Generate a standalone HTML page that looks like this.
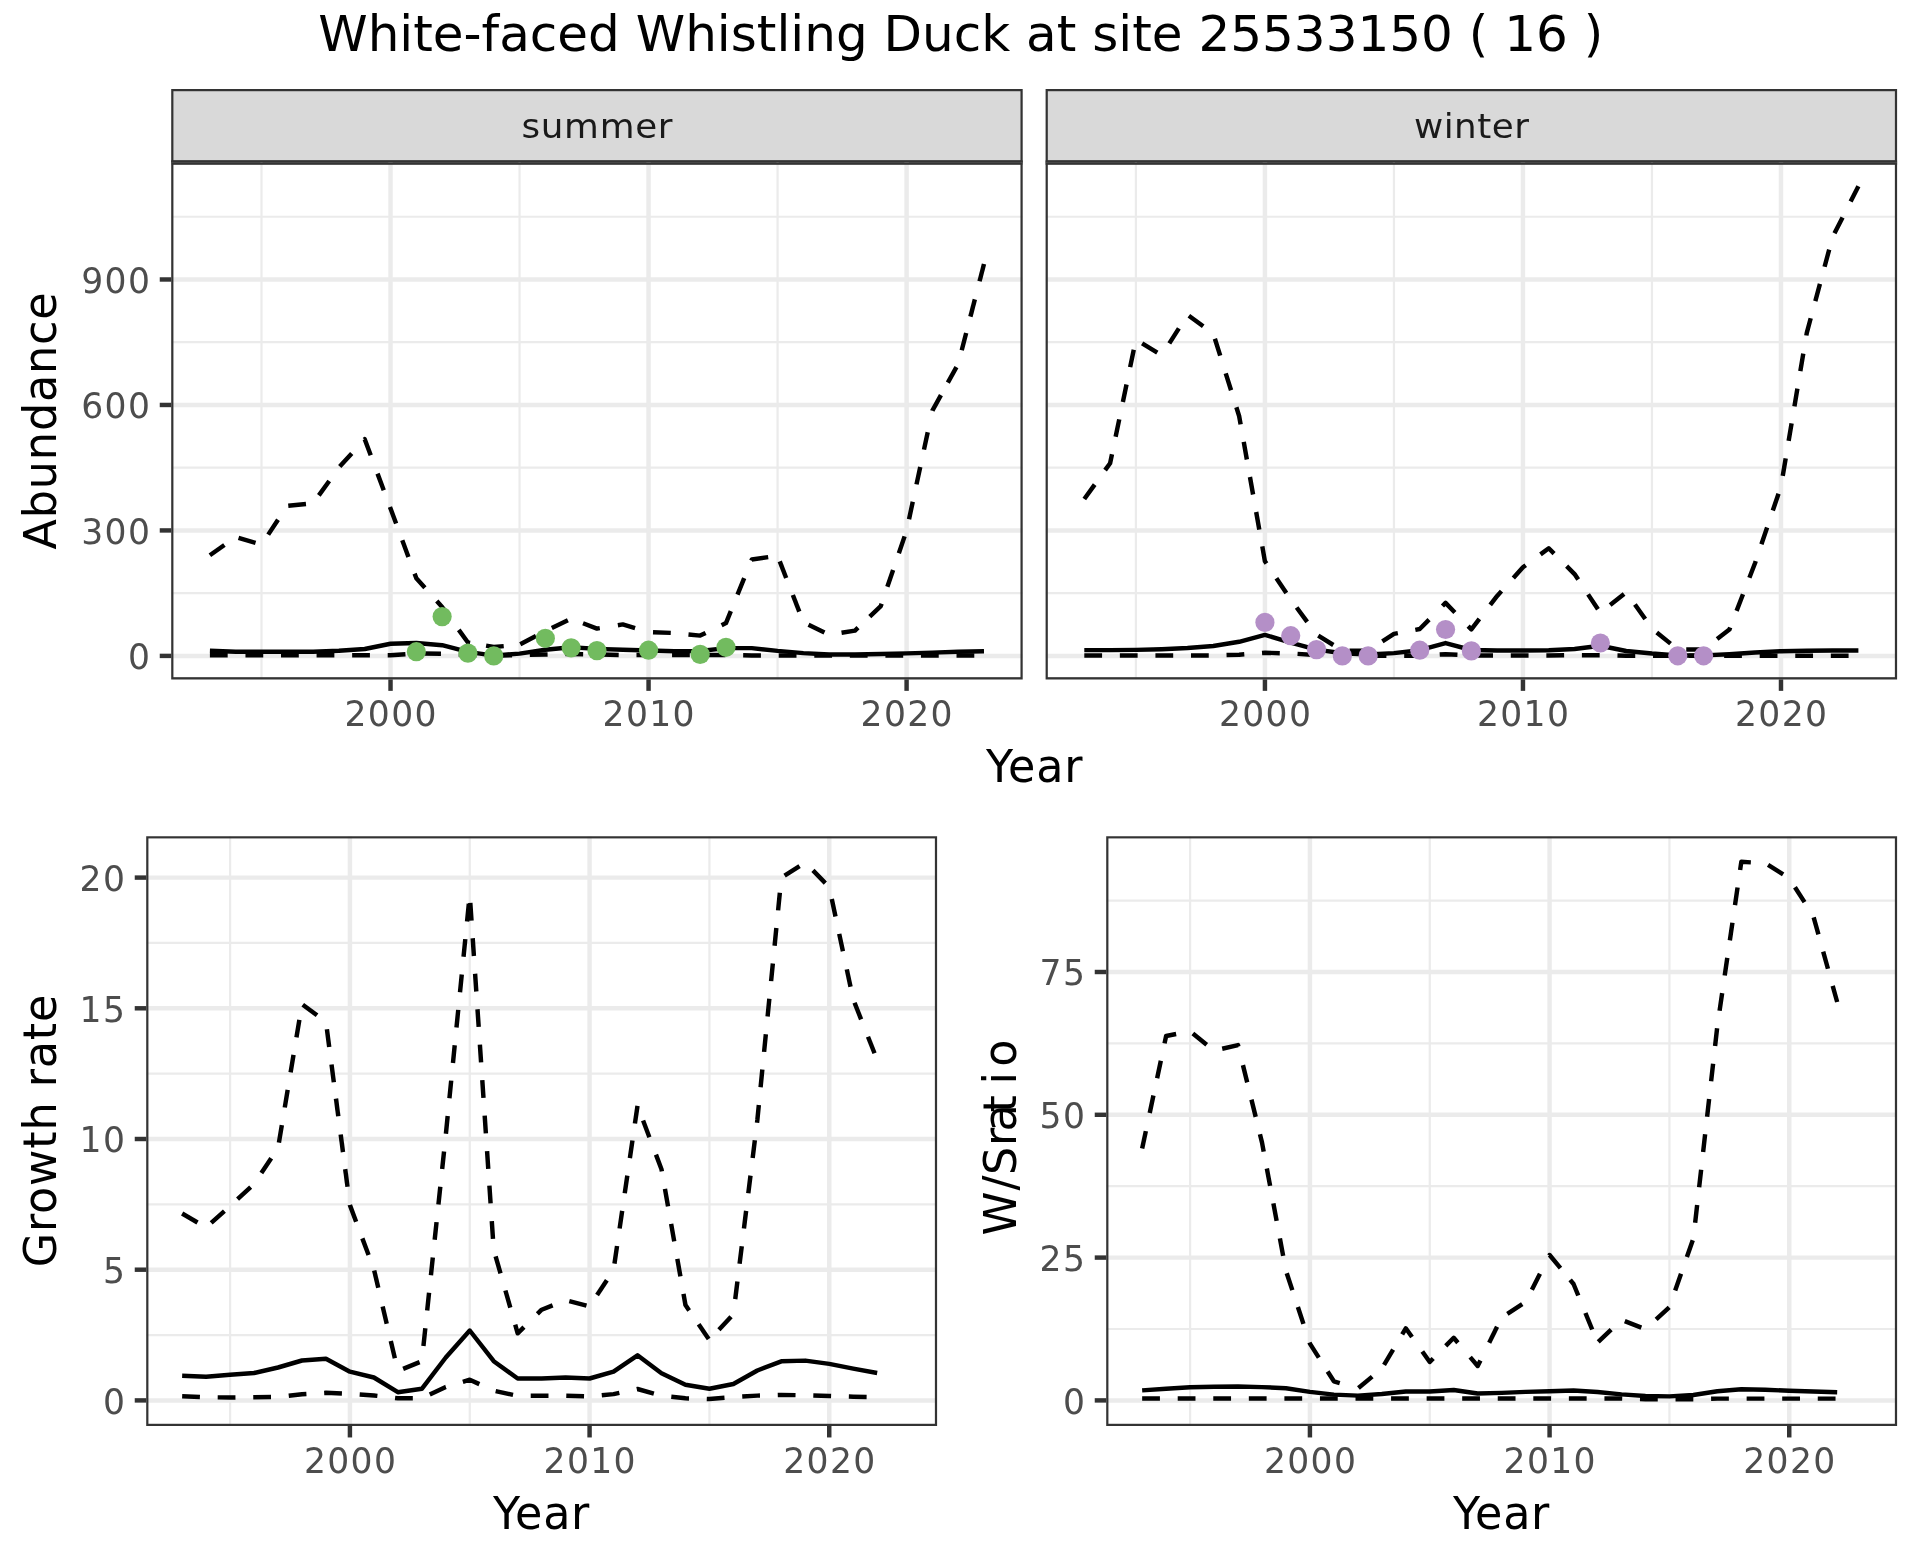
<!DOCTYPE html>
<html><head><meta charset="utf-8"><title>White-faced Whistling Duck at site 25533150</title>
<style>html,body{margin:0;padding:0;background:#fff;}svg{display:block;will-change:transform;}</style>
</head><body>
<svg xmlns="http://www.w3.org/2000/svg" width="1920" height="1560" viewBox="0 0 1920 1560">
<rect x="0" y="0" width="1920" height="1560" fill="#FFFFFF"/>
<defs>
<clipPath id="c_summer"><rect x="171.2" y="162.6" width="851.5" height="516.8"/></clipPath>
<clipPath id="c_winter"><rect x="1045.6" y="162.6" width="851.5" height="516.8"/></clipPath>
<clipPath id="c_growth"><rect x="146.2" y="836.2" width="790.9" height="589.8"/></clipPath>
<clipPath id="c_ratio"><rect x="1106.2" y="836.2" width="790.9" height="589.8"/></clipPath>
</defs>
<style>.ax{font-family:'DejaVu Sans', 'Liberation Sans', sans-serif;font-size:36.67px;fill:#4D4D4D}.ti{font-family:'DejaVu Sans', 'Liberation Sans', sans-serif;font-size:45.83px;fill:#000}.st{font-family:'DejaVu Sans', 'Liberation Sans', sans-serif;font-size:36.67px;fill:#1A1A1A}</style>
<text x="960.7" y="51" text-anchor="middle" style="font-family:'DejaVu Sans', 'Liberation Sans', sans-serif;font-size:50px;fill:#000">White-faced Whistling Duck at site 25533150 ( 16 )</text>
<rect x="172.31" y="90.11" width="849.28" height="71.38" fill="#D9D9D9" stroke="#333333" stroke-width="2.22"/>
<rect x="171.2" y="160.38" width="851.5" height="4.45" fill="#333333"/>
<text x="521.5 540.65 564.04 599.74 635.28 657.75" y="138.7" class="st" style="font-size:35.753px" transform="translate(0 128.8) scale(1 0.9538) translate(0 -128.7)">summer</text>
<rect x="1046.71" y="90.11" width="849.28" height="71.38" fill="#D9D9D9" stroke="#333333" stroke-width="2.22"/>
<rect x="1045.6" y="160.38" width="851.5" height="4.45" fill="#333333"/>
<text x="1414.02 1443.74 1454.09 1477.22 1491.69 1514.15" y="138.7" class="st" style="font-size:35.753px" transform="translate(0 128.8) scale(1 0.9538) translate(0 -128.7)">winter</text>
<g clip-path="url(#c_summer)">
<rect x="171.2" y="162.6" width="851.5" height="516.8" fill="#FFFFFF"/>
<line x1="171.2" y1="593.16" x2="1022.7" y2="593.16" stroke="#EBEBEB" stroke-width="2.22"/>
<line x1="171.2" y1="467.69" x2="1022.7" y2="467.69" stroke="#EBEBEB" stroke-width="2.22"/>
<line x1="171.2" y1="342.22" x2="1022.7" y2="342.22" stroke="#EBEBEB" stroke-width="2.22"/>
<line x1="171.2" y1="216.75" x2="1022.7" y2="216.75" stroke="#EBEBEB" stroke-width="2.22"/>
<line x1="261.51" y1="162.6" x2="261.51" y2="679.4" stroke="#EBEBEB" stroke-width="2.22"/>
<line x1="519.54" y1="162.6" x2="519.54" y2="679.4" stroke="#EBEBEB" stroke-width="2.22"/>
<line x1="777.57" y1="162.6" x2="777.57" y2="679.4" stroke="#EBEBEB" stroke-width="2.22"/>
<line x1="171.2" y1="655.9" x2="1022.7" y2="655.9" stroke="#EBEBEB" stroke-width="4.45"/>
<line x1="171.2" y1="530.43" x2="1022.7" y2="530.43" stroke="#EBEBEB" stroke-width="4.45"/>
<line x1="171.2" y1="404.96" x2="1022.7" y2="404.96" stroke="#EBEBEB" stroke-width="4.45"/>
<line x1="171.2" y1="279.48" x2="1022.7" y2="279.48" stroke="#EBEBEB" stroke-width="4.45"/>
<line x1="390.53" y1="162.6" x2="390.53" y2="679.4" stroke="#EBEBEB" stroke-width="4.45"/>
<line x1="648.56" y1="162.6" x2="648.56" y2="679.4" stroke="#EBEBEB" stroke-width="4.45"/>
<line x1="906.59" y1="162.6" x2="906.59" y2="679.4" stroke="#EBEBEB" stroke-width="4.45"/>
<path d="M209.9 655.3 L235.71 655.3 L261.51 655.3 L287.31 655.3 L313.12 655.3 L338.92 655.3 L364.72 655.3 L390.53 655.3 L416.33 653.5 L442.13 653.7 L467.93 655 L493.74 655.8 L519.54 655 L545.34 654.5 L571.15 654 L596.95 654.5 L622.75 655 L648.56 655 L674.36 655 L700.16 655 L725.97 655 L751.77 655.5 L777.57 655.5 L803.37 655.5 L829.18 655.5 L854.98 655.5 L880.78 655.5 L906.59 655.5 L932.39 655.5 L958.19 655.5 L984 655.5" fill="none" stroke="#000000" stroke-width="4.45" stroke-linejoin="round" stroke-linecap="butt" stroke-dasharray="17.78 17.78"/>
<path d="M209.9 650.8 L235.71 651.7 L261.51 651.7 L287.31 651.7 L313.12 651.7 L338.92 650.8 L364.72 649 L390.53 643.8 L416.33 643 L442.13 645.2 L467.93 651.9 L493.74 655.6 L519.54 653.6 L545.34 649.7 L571.15 647.3 L596.95 648.9 L622.75 649.7 L648.56 650.5 L674.36 651.3 L700.16 651 L725.97 648.1 L751.77 648.1 L777.57 650.9 L803.37 653.1 L829.18 654.5 L854.98 654.5 L880.78 654 L906.59 653.4 L932.39 652.6 L958.19 651.7 L984 651.2" fill="none" stroke="#000000" stroke-width="4.45" stroke-linejoin="round" stroke-linecap="butt"/>
<path d="M209.9 555.3 L230.86 540.44" fill="none" stroke="#000000" stroke-width="4.45" stroke-linejoin="round" stroke-linecap="butt" stroke-dasharray="17.78 17.78" stroke-dashoffset="0"/>
<path d="M230.86 540.44 L235.71 537 L261.51 544.7 L263.28 542.04" fill="none" stroke="#000000" stroke-width="4.45" stroke-linejoin="round" stroke-linecap="butt" stroke-dasharray="17.78 17.78" stroke-dashoffset="26.67"/>
<path d="M263.28 542.04 L287.31 505.8 L313.12 503.3 L313.64 502.58" fill="none" stroke="#000000" stroke-width="4.45" stroke-linejoin="round" stroke-linecap="butt" stroke-dasharray="17.78 17.78" stroke-dashoffset="26.67"/>
<path d="M313.64 502.58 L338.92 467.5 L358.35 446.19" fill="none" stroke="#000000" stroke-width="4.45" stroke-linejoin="round" stroke-linecap="butt" stroke-dasharray="17.78 17.78" stroke-dashoffset="26.67"/>
<path d="M358.35 446.19 L364.72 439.2 L374.43 465.27" fill="none" stroke="#000000" stroke-width="4.45" stroke-linejoin="round" stroke-linecap="butt" stroke-dasharray="17.78 17.78" stroke-dashoffset="26.67"/>
<path d="M374.43 465.27 L390.53 508.5 L416.33 578.3 L442.13 607 L453.54 622.69" fill="none" stroke="#000000" stroke-width="4.45" stroke-linejoin="round" stroke-linecap="butt" stroke-dasharray="17.78 17.78" stroke-dashoffset="26.67"/>
<path d="M453.54 622.69 L467.93 642.5 L477.33 644.14" fill="none" stroke="#000000" stroke-width="4.45" stroke-linejoin="round" stroke-linecap="butt" stroke-dasharray="17.78 17.78" stroke-dashoffset="26.67"/>
<path d="M477.33 644.14 L493.74 647 L511.5 645.42" fill="none" stroke="#000000" stroke-width="4.45" stroke-linejoin="round" stroke-linecap="butt" stroke-dasharray="17.78 17.78" stroke-dashoffset="26.67"/>
<path d="M511.5 645.42 L519.54 644.7 L545.34 631 L571.15 618.75 L574.72 620.11" fill="none" stroke="#000000" stroke-width="4.45" stroke-linejoin="round" stroke-linecap="butt" stroke-dasharray="17.78 17.78" stroke-dashoffset="26.67"/>
<path d="M574.72 620.11 L596.95 628.6 L609.11 626.62" fill="none" stroke="#000000" stroke-width="4.45" stroke-linejoin="round" stroke-linecap="butt" stroke-dasharray="17.78 17.78" stroke-dashoffset="26.67"/>
<path d="M609.11 626.62 L622.75 624.4 L644.3 630.75" fill="none" stroke="#000000" stroke-width="4.45" stroke-linejoin="round" stroke-linecap="butt" stroke-dasharray="17.78 17.78" stroke-dashoffset="26.67"/>
<path d="M644.3 630.75 L648.56 632 L674.36 633 L700.16 635.6 L725.97 623.1 L747.98 568.83" fill="none" stroke="#000000" stroke-width="4.45" stroke-linejoin="round" stroke-linecap="butt" stroke-dasharray="17.78 17.78" stroke-dashoffset="26.67"/>
<path d="M747.98 568.83 L751.77 559.5 L774.72 556.21" fill="none" stroke="#000000" stroke-width="4.45" stroke-linejoin="round" stroke-linecap="butt" stroke-dasharray="17.78 17.78" stroke-dashoffset="26.67"/>
<path d="M774.72 556.21 L777.57 555.8 L789.62 586.76" fill="none" stroke="#000000" stroke-width="4.45" stroke-linejoin="round" stroke-linecap="butt" stroke-dasharray="17.78 17.78" stroke-dashoffset="26.67"/>
<path d="M789.62 586.76 L802.23 619.16" fill="none" stroke="#000000" stroke-width="4.45" stroke-linejoin="round" stroke-linecap="butt" stroke-dasharray="17.78 17.78" stroke-dashoffset="26.67"/>
<path d="M802.23 619.16 L803.37 622.1 L829.18 634.8 L854.98 630.6 L863.31 622.69" fill="none" stroke="#000000" stroke-width="4.45" stroke-linejoin="round" stroke-linecap="butt" stroke-dasharray="17.78 17.78" stroke-dashoffset="26.67"/>
<path d="M863.31 622.69 L880.78 606.1 L906.59 530.5 L930.49 419.41" fill="none" stroke="#000000" stroke-width="4.45" stroke-linejoin="round" stroke-linecap="butt" stroke-dasharray="17.78 17.78" stroke-dashoffset="26.67"/>
<path d="M930.49 419.41 L932.39 410.6 L943.53 390.48" fill="none" stroke="#000000" stroke-width="4.45" stroke-linejoin="round" stroke-linecap="butt" stroke-dasharray="17.78 17.78" stroke-dashoffset="26.67"/>
<path d="M943.53 390.48 L958.19 364 L968.2 325.23" fill="none" stroke="#000000" stroke-width="4.45" stroke-linejoin="round" stroke-linecap="butt" stroke-dasharray="17.78 17.78" stroke-dashoffset="26.67"/>
<path d="M968.2 325.23 L977.33 289.83" fill="none" stroke="#000000" stroke-width="4.45" stroke-linejoin="round" stroke-linecap="butt" stroke-dasharray="17.78 17.78" stroke-dashoffset="26.67"/>
<path d="M977.33 289.83 L984 264" fill="none" stroke="#000000" stroke-width="4.45" stroke-linejoin="round" stroke-linecap="butt" stroke-dasharray="17.78 17.78" stroke-dashoffset="26.67"/>
<circle cx="416.33" cy="651.7" r="9.6" fill="#72BB5F"/>
<circle cx="442.13" cy="616.6" r="9.6" fill="#72BB5F"/>
<circle cx="467.93" cy="653.1" r="9.6" fill="#72BB5F"/>
<circle cx="493.74" cy="655.9" r="9.6" fill="#72BB5F"/>
<circle cx="545.34" cy="638.3" r="9.6" fill="#72BB5F"/>
<circle cx="571.15" cy="647.8" r="9.6" fill="#72BB5F"/>
<circle cx="596.95" cy="650.6" r="9.6" fill="#72BB5F"/>
<circle cx="648.56" cy="650.2" r="9.6" fill="#72BB5F"/>
<circle cx="700.16" cy="654.4" r="9.6" fill="#72BB5F"/>
<circle cx="725.97" cy="647.3" r="9.6" fill="#72BB5F"/>
<rect x="171.2" y="162.6" width="851.5" height="516.8" fill="none" stroke="#333333" stroke-width="4.45"/>
</g>
<g clip-path="url(#c_winter)">
<rect x="1045.6" y="162.6" width="851.5" height="516.8" fill="#FFFFFF"/>
<line x1="1045.6" y1="593.16" x2="1897.1" y2="593.16" stroke="#EBEBEB" stroke-width="2.22"/>
<line x1="1045.6" y1="467.69" x2="1897.1" y2="467.69" stroke="#EBEBEB" stroke-width="2.22"/>
<line x1="1045.6" y1="342.22" x2="1897.1" y2="342.22" stroke="#EBEBEB" stroke-width="2.22"/>
<line x1="1045.6" y1="216.75" x2="1897.1" y2="216.75" stroke="#EBEBEB" stroke-width="2.22"/>
<line x1="1135.91" y1="162.6" x2="1135.91" y2="679.4" stroke="#EBEBEB" stroke-width="2.22"/>
<line x1="1393.94" y1="162.6" x2="1393.94" y2="679.4" stroke="#EBEBEB" stroke-width="2.22"/>
<line x1="1651.97" y1="162.6" x2="1651.97" y2="679.4" stroke="#EBEBEB" stroke-width="2.22"/>
<line x1="1045.6" y1="655.9" x2="1897.1" y2="655.9" stroke="#EBEBEB" stroke-width="4.45"/>
<line x1="1045.6" y1="530.43" x2="1897.1" y2="530.43" stroke="#EBEBEB" stroke-width="4.45"/>
<line x1="1045.6" y1="404.96" x2="1897.1" y2="404.96" stroke="#EBEBEB" stroke-width="4.45"/>
<line x1="1045.6" y1="279.48" x2="1897.1" y2="279.48" stroke="#EBEBEB" stroke-width="4.45"/>
<line x1="1264.93" y1="162.6" x2="1264.93" y2="679.4" stroke="#EBEBEB" stroke-width="4.45"/>
<line x1="1522.96" y1="162.6" x2="1522.96" y2="679.4" stroke="#EBEBEB" stroke-width="4.45"/>
<line x1="1780.99" y1="162.6" x2="1780.99" y2="679.4" stroke="#EBEBEB" stroke-width="4.45"/>
<path d="M1084.3 655.5 L1110.11 655.5 L1135.91 655.5 L1161.71 655.5 L1187.52 655.5 L1213.32 655.5 L1239.12 654.7 L1264.93 652.7 L1290.73 653.5 L1316.53 655 L1342.33 655.8 L1368.14 655.8 L1393.94 655.8 L1419.74 655.8 L1445.55 654.2 L1471.35 655.4 L1497.15 655.4 L1522.96 655.4 L1548.76 655.4 L1574.56 655.2 L1600.37 655.2 L1626.17 655.8 L1651.97 655.8 L1677.77 655.8 L1703.58 655.8 L1729.38 655.8 L1755.18 655.8 L1780.99 655.8 L1806.79 655.8 L1832.59 655.8 L1858.4 655.8" fill="none" stroke="#000000" stroke-width="4.45" stroke-linejoin="round" stroke-linecap="butt" stroke-dasharray="17.78 17.78"/>
<path d="M1084.3 650.1 L1110.11 650.1 L1135.91 649.9 L1161.71 649.2 L1187.52 648 L1213.32 646 L1239.12 641.8 L1264.93 634.9 L1290.73 642.6 L1316.53 649.6 L1342.33 653.2 L1368.14 654.5 L1393.94 653.1 L1419.74 650.2 L1445.55 643.1 L1471.35 650 L1497.15 650.5 L1522.96 650.5 L1548.76 650.2 L1574.56 649 L1600.37 645.8 L1626.17 651 L1651.97 653.5 L1677.77 655.4 L1703.58 655.4 L1729.38 654.2 L1755.18 652.5 L1780.99 651.2 L1806.79 650.8 L1832.59 650.5 L1858.4 650.5" fill="none" stroke="#000000" stroke-width="4.45" stroke-linejoin="round" stroke-linecap="butt"/>
<path d="M1084.3 499 L1110.11 463.2 L1135.91 339.5 L1161.71 355.3 L1164.54 350.87" fill="none" stroke="#000000" stroke-width="4.45" stroke-linejoin="round" stroke-linecap="butt" stroke-dasharray="17.78 17.78" stroke-dashoffset="0"/>
<path d="M1164.54 350.87 L1187.52 314.8 L1213.32 333.75 L1223.07 364.84" fill="none" stroke="#000000" stroke-width="4.45" stroke-linejoin="round" stroke-linecap="butt" stroke-dasharray="17.78 17.78" stroke-dashoffset="26.67"/>
<path d="M1223.07 364.84 L1239.12 416 L1260.74 537.71" fill="none" stroke="#000000" stroke-width="4.45" stroke-linejoin="round" stroke-linecap="butt" stroke-dasharray="17.78 17.78" stroke-dashoffset="26.67"/>
<path d="M1260.74 537.71 L1264.93 561.3 L1290.73 599.5 L1316.53 634.5 L1342.33 650.6 L1368.14 650.6 L1393.94 633.9 L1419.74 629 L1436.2 612.36" fill="none" stroke="#000000" stroke-width="4.45" stroke-linejoin="round" stroke-linecap="butt" stroke-dasharray="17.78 17.78" stroke-dashoffset="26.67"/>
<path d="M1436.2 612.36 L1445.55 602.9 L1461.92 619.72" fill="none" stroke="#000000" stroke-width="4.45" stroke-linejoin="round" stroke-linecap="butt" stroke-dasharray="17.78 17.78" stroke-dashoffset="26.67"/>
<path d="M1461.92 619.72 L1471.35 629.4 L1497.15 595.9 L1522.96 567.2 L1533.3 559.62" fill="none" stroke="#000000" stroke-width="4.45" stroke-linejoin="round" stroke-linecap="butt" stroke-dasharray="17.78 17.78" stroke-dashoffset="26.67"/>
<path d="M1533.3 559.62 L1548.76 548.3 L1574.56 574.1 L1600.37 612.8 L1603.17 610.57" fill="none" stroke="#000000" stroke-width="4.45" stroke-linejoin="round" stroke-linecap="butt" stroke-dasharray="17.78 17.78" stroke-dashoffset="26.67"/>
<path d="M1603.17 610.57 L1626.17 592.3 L1651.97 628.5 L1677.77 649.5 L1703.58 649.5 L1710.06 644.5" fill="none" stroke="#000000" stroke-width="4.45" stroke-linejoin="round" stroke-linecap="butt" stroke-dasharray="17.78 17.78" stroke-dashoffset="26.67"/>
<path d="M1710.06 644.5 L1729.38 629.6 L1755.18 562.7 L1780.99 486.4 L1781.28 484.66" fill="none" stroke="#000000" stroke-width="4.45" stroke-linejoin="round" stroke-linecap="butt" stroke-dasharray="17.78 17.78" stroke-dashoffset="26.67"/>
<path d="M1781.28 484.66 L1792.97 415.04" fill="none" stroke="#000000" stroke-width="4.45" stroke-linejoin="round" stroke-linecap="butt" stroke-dasharray="17.78 17.78" stroke-dashoffset="26.67"/>
<path d="M1792.97 415.04 L1804.86 344.27" fill="none" stroke="#000000" stroke-width="4.45" stroke-linejoin="round" stroke-linecap="butt" stroke-dasharray="17.78 17.78" stroke-dashoffset="26.67"/>
<path d="M1804.86 344.27 L1806.79 332.8 L1831.37 241.53" fill="none" stroke="#000000" stroke-width="4.45" stroke-linejoin="round" stroke-linecap="butt" stroke-dasharray="17.78 17.78" stroke-dashoffset="26.67"/>
<path d="M1831.37 241.53 L1832.59 237 L1858.4 186.3" fill="none" stroke="#000000" stroke-width="4.45" stroke-linejoin="round" stroke-linecap="butt" stroke-dasharray="17.78 17.78" stroke-dashoffset="26.67"/>
<circle cx="1264.93" cy="622.4" r="9.6" fill="#B48FC7"/>
<circle cx="1290.73" cy="635.7" r="9.6" fill="#B48FC7"/>
<circle cx="1316.53" cy="649.6" r="9.6" fill="#B48FC7"/>
<circle cx="1342.33" cy="655.9" r="9.6" fill="#B48FC7"/>
<circle cx="1368.14" cy="655.9" r="9.6" fill="#B48FC7"/>
<circle cx="1419.74" cy="650.2" r="9.6" fill="#B48FC7"/>
<circle cx="1445.55" cy="629.5" r="9.6" fill="#B48FC7"/>
<circle cx="1471.35" cy="650.9" r="9.6" fill="#B48FC7"/>
<circle cx="1600.37" cy="643" r="9.6" fill="#B48FC7"/>
<circle cx="1677.77" cy="655.8" r="9.6" fill="#B48FC7"/>
<circle cx="1703.58" cy="655.8" r="9.6" fill="#B48FC7"/>
<rect x="1045.6" y="162.6" width="851.5" height="516.8" fill="none" stroke="#333333" stroke-width="4.45"/>
</g>
<g clip-path="url(#c_growth)">
<rect x="146.2" y="836.2" width="790.9" height="589.8" fill="#FFFFFF"/>
<line x1="146.2" y1="1335.05" x2="937.1" y2="1335.05" stroke="#EBEBEB" stroke-width="2.22"/>
<line x1="146.2" y1="1204.35" x2="937.1" y2="1204.35" stroke="#EBEBEB" stroke-width="2.22"/>
<line x1="146.2" y1="1073.65" x2="937.1" y2="1073.65" stroke="#EBEBEB" stroke-width="2.22"/>
<line x1="146.2" y1="942.95" x2="937.1" y2="942.95" stroke="#EBEBEB" stroke-width="2.22"/>
<line x1="230.08" y1="836.2" x2="230.08" y2="1426" stroke="#EBEBEB" stroke-width="2.22"/>
<line x1="469.75" y1="836.2" x2="469.75" y2="1426" stroke="#EBEBEB" stroke-width="2.22"/>
<line x1="709.42" y1="836.2" x2="709.42" y2="1426" stroke="#EBEBEB" stroke-width="2.22"/>
<line x1="146.2" y1="1400.4" x2="937.1" y2="1400.4" stroke="#EBEBEB" stroke-width="4.45"/>
<line x1="146.2" y1="1269.7" x2="937.1" y2="1269.7" stroke="#EBEBEB" stroke-width="4.45"/>
<line x1="146.2" y1="1139" x2="937.1" y2="1139" stroke="#EBEBEB" stroke-width="4.45"/>
<line x1="146.2" y1="1008.3" x2="937.1" y2="1008.3" stroke="#EBEBEB" stroke-width="4.45"/>
<line x1="146.2" y1="877.6" x2="937.1" y2="877.6" stroke="#EBEBEB" stroke-width="4.45"/>
<line x1="349.92" y1="836.2" x2="349.92" y2="1426" stroke="#EBEBEB" stroke-width="4.45"/>
<line x1="589.58" y1="836.2" x2="589.58" y2="1426" stroke="#EBEBEB" stroke-width="4.45"/>
<line x1="829.25" y1="836.2" x2="829.25" y2="1426" stroke="#EBEBEB" stroke-width="4.45"/>
<path d="M182.15 1396.3 L206.12 1397.3 L230.08 1397.5 L254.05 1397.2 L278.02 1397 L301.98 1394.2 L325.95 1392.8 L349.92 1393.8 L373.88 1395.5 L397.85 1398.3 L421.82 1398.3 L445.78 1387 L469.75 1379.7 L493.72 1390.7 L517.68 1395.8 L541.65 1395.8 L565.62 1395.8 L589.58 1396.5 L613.55 1394.1 L637.52 1389 L661.48 1395.8 L685.45 1398.3 L709.42 1399 L733.38 1397.1 L757.35 1395.6 L781.32 1394.9 L805.28 1395.3 L829.25 1396 L853.22 1396.7 L877.18 1397.1" fill="none" stroke="#000000" stroke-width="4.45" stroke-linejoin="round" stroke-linecap="butt" stroke-dasharray="17.78 17.78"/>
<path d="M182.15 1375.8 L206.12 1376.7 L230.08 1374.7 L254.05 1373 L278.02 1367.5 L301.98 1360.5 L325.95 1358.8 L349.92 1371.7 L373.88 1377.5 L397.85 1392.2 L421.82 1388.8 L445.78 1357.5 L469.75 1330.5 L493.72 1361.2 L517.68 1378.5 L541.65 1378.5 L565.62 1377.5 L589.58 1378.5 L613.55 1371.6 L637.52 1355.3 L661.48 1373.3 L685.45 1384.8 L709.42 1388.8 L733.38 1384 L757.35 1370.5 L781.32 1361.3 L805.28 1360.6 L829.25 1363.9 L853.22 1368.6 L877.18 1373" fill="none" stroke="#000000" stroke-width="4.45" stroke-linejoin="round" stroke-linecap="butt"/>
<path d="M182.15 1213.5 L204.31 1226.44" fill="none" stroke="#000000" stroke-width="4.45" stroke-linejoin="round" stroke-linecap="butt" stroke-dasharray="17.78 17.78" stroke-dashoffset="0"/>
<path d="M204.31 1226.44 L206.12 1227.5 L230.08 1206 L254.05 1184 L278.02 1148 L300.69 1011.89" fill="none" stroke="#000000" stroke-width="4.45" stroke-linejoin="round" stroke-linecap="butt" stroke-dasharray="17.78 17.78" stroke-dashoffset="26.67"/>
<path d="M300.69 1011.89 L301.98 1004.1 L324.74 1021.1" fill="none" stroke="#000000" stroke-width="4.45" stroke-linejoin="round" stroke-linecap="butt" stroke-dasharray="17.78 17.78" stroke-dashoffset="26.67"/>
<path d="M324.74 1021.1 L325.95 1022 L334.83 1089.81" fill="none" stroke="#000000" stroke-width="4.45" stroke-linejoin="round" stroke-linecap="butt" stroke-dasharray="17.78 17.78" stroke-dashoffset="26.67"/>
<path d="M334.83 1089.81 L339.52 1125.7" fill="none" stroke="#000000" stroke-width="4.45" stroke-linejoin="round" stroke-linecap="butt" stroke-dasharray="17.78 17.78" stroke-dashoffset="26.67"/>
<path d="M339.52 1125.7 L344.06 1160.34" fill="none" stroke="#000000" stroke-width="4.45" stroke-linejoin="round" stroke-linecap="butt" stroke-dasharray="17.78 17.78" stroke-dashoffset="26.67"/>
<path d="M344.06 1160.34 L348.76 1196.23" fill="none" stroke="#000000" stroke-width="4.45" stroke-linejoin="round" stroke-linecap="butt" stroke-dasharray="17.78 17.78" stroke-dashoffset="26.67"/>
<path d="M348.76 1196.23 L349.92 1205.1 L371.25 1262.17" fill="none" stroke="#000000" stroke-width="4.45" stroke-linejoin="round" stroke-linecap="butt" stroke-dasharray="17.78 17.78" stroke-dashoffset="26.67"/>
<path d="M371.25 1262.17 L373.88 1269.2 L380.61 1297.78" fill="none" stroke="#000000" stroke-width="4.45" stroke-linejoin="round" stroke-linecap="butt" stroke-dasharray="17.78 17.78" stroke-dashoffset="26.67"/>
<path d="M380.61 1297.78 L397.12 1367.92" fill="none" stroke="#000000" stroke-width="4.45" stroke-linejoin="round" stroke-linecap="butt" stroke-dasharray="17.78 17.78" stroke-dashoffset="26.67"/>
<path d="M397.12 1367.92 L397.85 1371 L421.82 1361.2 L445.78 1135 L469.75 894.4 L488.8 1176.74" fill="none" stroke="#000000" stroke-width="4.45" stroke-linejoin="round" stroke-linecap="butt" stroke-dasharray="17.78 17.78" stroke-dashoffset="26.67"/>
<path d="M488.8 1176.74 L493.72 1249.7 L517.68 1333.3 L531.06 1320.13" fill="none" stroke="#000000" stroke-width="4.45" stroke-linejoin="round" stroke-linecap="butt" stroke-dasharray="17.78 17.78" stroke-dashoffset="26.67"/>
<path d="M531.06 1320.13 L541.65 1309.7 L565.62 1300.2 L589.58 1306.5 L592.2 1302.51" fill="none" stroke="#000000" stroke-width="4.45" stroke-linejoin="round" stroke-linecap="butt" stroke-dasharray="17.78 17.78" stroke-dashoffset="26.67"/>
<path d="M592.2 1302.51 L612.2 1272.06" fill="none" stroke="#000000" stroke-width="4.45" stroke-linejoin="round" stroke-linecap="butt" stroke-dasharray="17.78 17.78" stroke-dashoffset="26.67"/>
<path d="M612.2 1272.06 L613.55 1270 L633.64 1132.33" fill="none" stroke="#000000" stroke-width="4.45" stroke-linejoin="round" stroke-linecap="butt" stroke-dasharray="17.78 17.78" stroke-dashoffset="26.67"/>
<path d="M633.64 1132.33 L637.52 1105.8 L639.96 1112.26" fill="none" stroke="#000000" stroke-width="4.45" stroke-linejoin="round" stroke-linecap="butt" stroke-dasharray="17.78 17.78" stroke-dashoffset="26.67"/>
<path d="M639.96 1112.26 L652.83 1146.32" fill="none" stroke="#000000" stroke-width="4.45" stroke-linejoin="round" stroke-linecap="butt" stroke-dasharray="17.78 17.78" stroke-dashoffset="26.67"/>
<path d="M652.83 1146.32 L661.48 1169.2 L685.45 1305 L693.6 1316.9" fill="none" stroke="#000000" stroke-width="4.45" stroke-linejoin="round" stroke-linecap="butt" stroke-dasharray="17.78 17.78" stroke-dashoffset="26.67"/>
<path d="M693.6 1316.9 L709.42 1340 L712.88 1336.27" fill="none" stroke="#000000" stroke-width="4.45" stroke-linejoin="round" stroke-linecap="butt" stroke-dasharray="17.78 17.78" stroke-dashoffset="26.67"/>
<path d="M712.88 1336.27 L733.38 1314.2 L734.15 1307.95" fill="none" stroke="#000000" stroke-width="4.45" stroke-linejoin="round" stroke-linecap="butt" stroke-dasharray="17.78 17.78" stroke-dashoffset="26.67"/>
<path d="M734.15 1307.95 L757.35 1120 L780.82 882.79" fill="none" stroke="#000000" stroke-width="4.45" stroke-linejoin="round" stroke-linecap="butt" stroke-dasharray="17.78 17.78" stroke-dashoffset="26.67"/>
<path d="M780.82 882.79 L781.32 877.8 L805.28 862.5 L829.25 887.2 L844.95 960.71" fill="none" stroke="#000000" stroke-width="4.45" stroke-linejoin="round" stroke-linecap="butt" stroke-dasharray="17.78 17.78" stroke-dashoffset="26.67"/>
<path d="M844.95 960.71 L852.12 994.27" fill="none" stroke="#000000" stroke-width="4.45" stroke-linejoin="round" stroke-linecap="butt" stroke-dasharray="17.78 17.78" stroke-dashoffset="26.67"/>
<path d="M852.12 994.27 L853.22 999.4 L864.72 1028.48" fill="none" stroke="#000000" stroke-width="4.45" stroke-linejoin="round" stroke-linecap="butt" stroke-dasharray="17.78 17.78" stroke-dashoffset="26.67"/>
<path d="M864.72 1028.48 L877.18 1060" fill="none" stroke="#000000" stroke-width="4.45" stroke-linejoin="round" stroke-linecap="butt" stroke-dasharray="17.78 17.78" stroke-dashoffset="26.67"/>
<rect x="146.2" y="836.2" width="790.9" height="589.8" fill="none" stroke="#333333" stroke-width="4.45"/>
</g>
<g clip-path="url(#c_ratio)">
<rect x="1106.2" y="836.2" width="790.9" height="589.8" fill="#FFFFFF"/>
<line x1="1106.2" y1="1329" x2="1897.1" y2="1329" stroke="#EBEBEB" stroke-width="2.22"/>
<line x1="1106.2" y1="1186.2" x2="1897.1" y2="1186.2" stroke="#EBEBEB" stroke-width="2.22"/>
<line x1="1106.2" y1="1043.4" x2="1897.1" y2="1043.4" stroke="#EBEBEB" stroke-width="2.22"/>
<line x1="1106.2" y1="900.6" x2="1897.1" y2="900.6" stroke="#EBEBEB" stroke-width="2.22"/>
<line x1="1190.08" y1="836.2" x2="1190.08" y2="1426" stroke="#EBEBEB" stroke-width="2.22"/>
<line x1="1429.75" y1="836.2" x2="1429.75" y2="1426" stroke="#EBEBEB" stroke-width="2.22"/>
<line x1="1669.42" y1="836.2" x2="1669.42" y2="1426" stroke="#EBEBEB" stroke-width="2.22"/>
<line x1="1106.2" y1="1400.4" x2="1897.1" y2="1400.4" stroke="#EBEBEB" stroke-width="4.45"/>
<line x1="1106.2" y1="1257.6" x2="1897.1" y2="1257.6" stroke="#EBEBEB" stroke-width="4.45"/>
<line x1="1106.2" y1="1114.8" x2="1897.1" y2="1114.8" stroke="#EBEBEB" stroke-width="4.45"/>
<line x1="1106.2" y1="972" x2="1897.1" y2="972" stroke="#EBEBEB" stroke-width="4.45"/>
<line x1="1309.92" y1="836.2" x2="1309.92" y2="1426" stroke="#EBEBEB" stroke-width="4.45"/>
<line x1="1549.58" y1="836.2" x2="1549.58" y2="1426" stroke="#EBEBEB" stroke-width="4.45"/>
<line x1="1789.25" y1="836.2" x2="1789.25" y2="1426" stroke="#EBEBEB" stroke-width="4.45"/>
<path d="M1142.15 1398.4 L1166.12 1398.4 L1190.08 1398.4 L1214.05 1398.4 L1238.02 1398.4 L1261.98 1398.4 L1285.95 1398.4 L1309.92 1398.4 L1333.88 1398.4 L1357.85 1398.4 L1381.82 1398.4 L1405.78 1398.4 L1429.75 1398.4 L1453.72 1398.4 L1477.68 1398.4 L1501.65 1398.4 L1525.62 1398.4 L1549.58 1398.4 L1573.55 1398.4 L1597.52 1398.4 L1621.48 1398.4 L1645.45 1399.3 L1669.42 1399.3 L1693.38 1399.3 L1717.35 1398.6 L1741.32 1398.6 L1765.28 1398.6 L1789.25 1398.6 L1813.22 1398.6 L1837.18 1398.6" fill="none" stroke="#000000" stroke-width="4.45" stroke-linejoin="round" stroke-linecap="butt" stroke-dasharray="17.78 17.78"/>
<path d="M1142.15 1390.4 L1166.12 1388.75 L1190.08 1387.3 L1214.05 1386.7 L1238.02 1386.5 L1261.98 1387.1 L1285.95 1388.3 L1309.92 1391.9 L1333.88 1394.6 L1357.85 1395.6 L1381.82 1394 L1405.78 1391.5 L1429.75 1391.5 L1453.72 1390 L1477.68 1393.5 L1501.65 1392.9 L1525.62 1391.9 L1549.58 1391.25 L1573.55 1390.5 L1597.52 1392 L1621.48 1394.4 L1645.45 1396 L1669.42 1396.4 L1693.38 1395 L1717.35 1391.2 L1741.32 1389.3 L1765.28 1389.7 L1789.25 1390.8 L1813.22 1391.5 L1837.18 1392.3" fill="none" stroke="#000000" stroke-width="4.45" stroke-linejoin="round" stroke-linecap="butt"/>
<path d="M1142.15 1148.5 L1147.87 1121.66" fill="none" stroke="#000000" stroke-width="4.45" stroke-linejoin="round" stroke-linecap="butt" stroke-dasharray="17.78 17.78" stroke-dashoffset="0"/>
<path d="M1147.87 1121.66 L1166.12 1036 L1190.08 1031.3 L1214.05 1050.6 L1238.02 1045.1 L1240.82 1056.48" fill="none" stroke="#000000" stroke-width="4.45" stroke-linejoin="round" stroke-linecap="butt" stroke-dasharray="17.78 17.78" stroke-dashoffset="26.67"/>
<path d="M1240.82 1056.48 L1261.98 1142.4 L1265.22 1159.73" fill="none" stroke="#000000" stroke-width="4.45" stroke-linejoin="round" stroke-linecap="butt" stroke-dasharray="17.78 17.78" stroke-dashoffset="26.67"/>
<path d="M1265.22 1159.73 L1285.95 1270.8 L1306.77 1334.04" fill="none" stroke="#000000" stroke-width="4.45" stroke-linejoin="round" stroke-linecap="butt" stroke-dasharray="17.78 17.78" stroke-dashoffset="26.67"/>
<path d="M1306.77 1334.04 L1309.92 1343.6 L1322.85 1363.95" fill="none" stroke="#000000" stroke-width="4.45" stroke-linejoin="round" stroke-linecap="butt" stroke-dasharray="17.78 17.78" stroke-dashoffset="26.67"/>
<path d="M1322.85 1363.95 L1333.88 1381.3 L1350.07 1386.1" fill="none" stroke="#000000" stroke-width="4.45" stroke-linejoin="round" stroke-linecap="butt" stroke-dasharray="17.78 17.78" stroke-dashoffset="26.67"/>
<path d="M1350.07 1386.1 L1357.85 1388.4 L1378.32 1371.57" fill="none" stroke="#000000" stroke-width="4.45" stroke-linejoin="round" stroke-linecap="butt" stroke-dasharray="17.78 17.78" stroke-dashoffset="26.67"/>
<path d="M1378.32 1371.57 L1381.82 1368.7 L1405.78 1328.3 L1429.75 1362 L1453.72 1337.8 L1464.41 1350.38" fill="none" stroke="#000000" stroke-width="4.45" stroke-linejoin="round" stroke-linecap="butt" stroke-dasharray="17.78 17.78" stroke-dashoffset="26.67"/>
<path d="M1464.41 1350.38 L1477.68 1366 L1485.25 1350.69" fill="none" stroke="#000000" stroke-width="4.45" stroke-linejoin="round" stroke-linecap="butt" stroke-dasharray="17.78 17.78" stroke-dashoffset="26.67"/>
<path d="M1485.25 1350.69 L1500.72 1319.38" fill="none" stroke="#000000" stroke-width="4.45" stroke-linejoin="round" stroke-linecap="butt" stroke-dasharray="17.78 17.78" stroke-dashoffset="26.67"/>
<path d="M1500.72 1319.38 L1501.65 1317.5 L1525.62 1301.9 L1545.23 1263.52" fill="none" stroke="#000000" stroke-width="4.45" stroke-linejoin="round" stroke-linecap="butt" stroke-dasharray="17.78 17.78" stroke-dashoffset="26.67"/>
<path d="M1545.23 1263.52 L1549.58 1255 L1564.48 1273.03" fill="none" stroke="#000000" stroke-width="4.45" stroke-linejoin="round" stroke-linecap="butt" stroke-dasharray="17.78 17.78" stroke-dashoffset="26.67"/>
<path d="M1564.48 1273.03 L1573.55 1284 L1582.07 1304.79" fill="none" stroke="#000000" stroke-width="4.45" stroke-linejoin="round" stroke-linecap="butt" stroke-dasharray="17.78 17.78" stroke-dashoffset="26.67"/>
<path d="M1582.07 1304.79 L1594.53 1335.2" fill="none" stroke="#000000" stroke-width="4.45" stroke-linejoin="round" stroke-linecap="butt" stroke-dasharray="17.78 17.78" stroke-dashoffset="26.67"/>
<path d="M1594.53 1335.2 L1597.52 1342.5 L1621.48 1319.8 L1645.45 1329.2 L1649.6 1325.38" fill="none" stroke="#000000" stroke-width="4.45" stroke-linejoin="round" stroke-linecap="butt" stroke-dasharray="17.78 17.78" stroke-dashoffset="26.67"/>
<path d="M1649.6 1325.38 L1669.42 1307.1 L1693.38 1238.4 L1717.35 1026 L1741.32 861.8 L1765.28 863.2 L1789.25 878.3 L1813.22 915.7 L1837.18 1002" fill="none" stroke="#000000" stroke-width="4.45" stroke-linejoin="round" stroke-linecap="butt" stroke-dasharray="17.78 17.78" stroke-dashoffset="26.67"/>
<rect x="1106.2" y="836.2" width="790.9" height="589.8" fill="none" stroke="#333333" stroke-width="4.45"/>
</g>
<line x1="159.74" y1="655.9" x2="171.2" y2="655.9" stroke="#333333" stroke-width="4.45"/>
<text x="127.92" y="669.27" class="ax" style="font-size:34.543px" transform="translate(0 655.75) scale(1 1.0138) translate(0 -655.9)">0</text>
<line x1="159.74" y1="530.43" x2="171.2" y2="530.43" stroke="#333333" stroke-width="4.45"/>
<text x="81.28 104.59 127.92" y="543.8" class="ax" style="font-size:34.543px" transform="translate(0 530.28) scale(1 1.0138) translate(0 -530.43)">300</text>
<line x1="159.74" y1="404.96" x2="171.2" y2="404.96" stroke="#333333" stroke-width="4.45"/>
<text x="81.28 104.59 127.92" y="418.33" class="ax" style="font-size:34.543px" transform="translate(0 404.81) scale(1 1.0138) translate(0 -404.96)">600</text>
<line x1="159.74" y1="279.48" x2="171.2" y2="279.48" stroke="#333333" stroke-width="4.45"/>
<text x="81.28 104.59 127.92" y="292.85" class="ax" style="font-size:34.543px" transform="translate(0 279.33) scale(1 1.0138) translate(0 -279.48)">900</text>
<line x1="134.74" y1="1400.4" x2="146.2" y2="1400.4" stroke="#333333" stroke-width="4.45"/>
<text x="102.92" y="1413.77" class="ax" style="font-size:34.543px" transform="translate(0 1400.25) scale(1 1.0138) translate(0 -1400.4)">0</text>
<line x1="134.74" y1="1269.7" x2="146.2" y2="1269.7" stroke="#333333" stroke-width="4.45"/>
<text x="102.92" y="1283.07" class="ax" style="font-size:34.543px" transform="translate(0 1269.55) scale(1 1.0138) translate(0 -1269.7)">5</text>
<line x1="134.74" y1="1139" x2="146.2" y2="1139" stroke="#333333" stroke-width="4.45"/>
<text x="79.59 102.9" y="1152.37" class="ax" style="font-size:34.543px" transform="translate(0 1138.85) scale(1 1.0138) translate(0 -1139)">10</text>
<line x1="134.74" y1="1008.3" x2="146.2" y2="1008.3" stroke="#333333" stroke-width="4.45"/>
<text x="79.59 102.9" y="1021.67" class="ax" style="font-size:34.543px" transform="translate(0 1008.15) scale(1 1.0138) translate(0 -1008.3)">15</text>
<line x1="134.74" y1="877.6" x2="146.2" y2="877.6" stroke="#333333" stroke-width="4.45"/>
<text x="79.59 102.9" y="890.97" class="ax" style="font-size:34.543px" transform="translate(0 877.45) scale(1 1.0138) translate(0 -877.6)">20</text>
<line x1="1094.74" y1="1400.4" x2="1106.2" y2="1400.4" stroke="#333333" stroke-width="4.45"/>
<text x="1062.92" y="1413.77" class="ax" style="font-size:34.543px" transform="translate(0 1400.25) scale(1 1.0138) translate(0 -1400.4)">0</text>
<line x1="1094.74" y1="1257.6" x2="1106.2" y2="1257.6" stroke="#333333" stroke-width="4.45"/>
<text x="1039.59 1062.9" y="1270.97" class="ax" style="font-size:34.543px" transform="translate(0 1257.45) scale(1 1.0138) translate(0 -1257.6)">25</text>
<line x1="1094.74" y1="1114.8" x2="1106.2" y2="1114.8" stroke="#333333" stroke-width="4.45"/>
<text x="1039.59 1062.9" y="1128.17" class="ax" style="font-size:34.543px" transform="translate(0 1114.65) scale(1 1.0138) translate(0 -1114.8)">50</text>
<line x1="1094.74" y1="972" x2="1106.2" y2="972" stroke="#333333" stroke-width="4.45"/>
<text x="1039.59 1062.9" y="985.37" class="ax" style="font-size:34.543px" transform="translate(0 971.85) scale(1 1.0138) translate(0 -972)">75</text>
<line x1="390.53" y1="679.4" x2="390.53" y2="690.86" stroke="#333333" stroke-width="4.45"/>
<text x="344.56 367.87 391.2 414.51" y="725.9" class="ax" style="font-size:34.543px" transform="translate(0 712.38) scale(1 1.0138) translate(0 -712.53)">2000</text>
<line x1="648.56" y1="679.4" x2="648.56" y2="690.86" stroke="#333333" stroke-width="4.45"/>
<text x="602.59 625.9 649.23 672.54" y="725.9" class="ax" style="font-size:34.543px" transform="translate(0 712.38) scale(1 1.0138) translate(0 -712.53)">2010</text>
<line x1="906.59" y1="679.4" x2="906.59" y2="690.86" stroke="#333333" stroke-width="4.45"/>
<text x="860.62 883.93 907.26 930.57" y="725.9" class="ax" style="font-size:34.543px" transform="translate(0 712.38) scale(1 1.0138) translate(0 -712.53)">2020</text>
<line x1="1264.93" y1="679.4" x2="1264.93" y2="690.86" stroke="#333333" stroke-width="4.45"/>
<text x="1218.96 1242.27 1265.6 1288.91" y="725.9" class="ax" style="font-size:34.543px" transform="translate(0 712.38) scale(1 1.0138) translate(0 -712.53)">2000</text>
<line x1="1522.96" y1="679.4" x2="1522.96" y2="690.86" stroke="#333333" stroke-width="4.45"/>
<text x="1476.99 1500.3 1523.63 1546.94" y="725.9" class="ax" style="font-size:34.543px" transform="translate(0 712.38) scale(1 1.0138) translate(0 -712.53)">2010</text>
<line x1="1780.99" y1="679.4" x2="1780.99" y2="690.86" stroke="#333333" stroke-width="4.45"/>
<text x="1735.02 1758.33 1781.66 1804.97" y="725.9" class="ax" style="font-size:34.543px" transform="translate(0 712.38) scale(1 1.0138) translate(0 -712.53)">2020</text>
<line x1="349.92" y1="1426" x2="349.92" y2="1437.46" stroke="#333333" stroke-width="4.45"/>
<text x="303.95 327.26 350.59 373.9" y="1472.5" class="ax" style="font-size:34.543px" transform="translate(0 1458.98) scale(1 1.0138) translate(0 -1459.13)">2000</text>
<line x1="589.58" y1="1426" x2="589.58" y2="1437.46" stroke="#333333" stroke-width="4.45"/>
<text x="543.61 566.92 590.25 613.56" y="1472.5" class="ax" style="font-size:34.543px" transform="translate(0 1458.98) scale(1 1.0138) translate(0 -1459.13)">2010</text>
<line x1="829.25" y1="1426" x2="829.25" y2="1437.46" stroke="#333333" stroke-width="4.45"/>
<text x="783.28 806.59 829.92 853.23" y="1472.5" class="ax" style="font-size:34.543px" transform="translate(0 1458.98) scale(1 1.0138) translate(0 -1459.13)">2020</text>
<line x1="1309.92" y1="1426" x2="1309.92" y2="1437.46" stroke="#333333" stroke-width="4.45"/>
<text x="1263.95 1287.26 1310.59 1333.9" y="1472.5" class="ax" style="font-size:34.543px" transform="translate(0 1458.98) scale(1 1.0138) translate(0 -1459.13)">2000</text>
<line x1="1549.58" y1="1426" x2="1549.58" y2="1437.46" stroke="#333333" stroke-width="4.45"/>
<text x="1503.61 1526.92 1550.25 1573.56" y="1472.5" class="ax" style="font-size:34.543px" transform="translate(0 1458.98) scale(1 1.0138) translate(0 -1459.13)">2010</text>
<line x1="1789.25" y1="1426" x2="1789.25" y2="1437.46" stroke="#333333" stroke-width="4.45"/>
<text x="1743.28 1766.59 1789.92 1813.23" y="1472.5" class="ax" style="font-size:34.543px" transform="translate(0 1458.98) scale(1 1.0138) translate(0 -1459.13)">2020</text>
<text x="986.11" y="781.7" class="ti" style="font-size:44.455px" transform="translate(0 781.7) scale(1 0.9948) translate(0 -781.7)">Y</text>
<text x="1008.11 1036.3 1064.24" y="781.7" class="ti" style="font-size:44.455px" transform="translate(0 781.7) scale(1 1.0309) translate(0 -781.7)">ear</text>
<text x="492.96" y="1529.2" class="ti" style="font-size:44.455px" transform="translate(0 1529.2) scale(1 0.9948) translate(0 -1529.2)">Y</text>
<text x="514.96 543.15 571.09" y="1529.2" class="ti" style="font-size:44.455px" transform="translate(0 1529.2) scale(1 1.0309) translate(0 -1529.2)">ear</text>
<text x="1452.96" y="1529.2" class="ti" style="font-size:44.455px" transform="translate(0 1529.2) scale(1 0.9948) translate(0 -1529.2)">Y</text>
<text x="1474.96 1503.15 1531.09" y="1529.2" class="ti" style="font-size:44.455px" transform="translate(0 1529.2) scale(1 1.0309) translate(0 -1529.2)">ear</text>
<text x="-128.61" y="0" class="ti" style="font-size:44.455px" transform="translate(55.75 421) rotate(-90) translate(0 0) scale(1 0.9948) translate(0 -0)">A</text>
<text x="-97.3 -68.2 -39.16 -10.13 18.95 47.06 76.03 101.28" y="0" class="ti" style="font-size:44.455px" transform="translate(55.75 421) rotate(-90) translate(0 0) scale(1 1.0309) translate(0 -0)">bundance</text>
<text x="-136.24" y="0" class="ti" style="font-size:44.455px" transform="translate(56.15 1131.1) rotate(-90) translate(0 0) scale(1 0.9948) translate(0 -0)">G</text>
<text x="-101.01 -83.01 -54.84 -17.64 0.49 29.32 43.95 62.93 90.86 108.98" y="0" class="ti" style="font-size:44.455px" transform="translate(56.15 1131.1) rotate(-90) translate(0 0) scale(1 1.0309) translate(0 -0)">rowth rate</text>
<text x="-104.36" y="0" class="ti" style="font-size:44.455px" transform="translate(1016.15 1131.1) rotate(-90) translate(0 0) scale(1 0.9948) translate(0 -0)">W</text>
<text x="-59.49" y="0" class="ti" style="font-size:44.455px" transform="translate(1016.15 1131.1) rotate(-90) translate(0 0) scale(1 1.0309) translate(0 -0)">/</text>
<text x="-43.85" y="0" class="ti" style="font-size:44.455px" transform="translate(1016.15 1131.1) rotate(-90) translate(0 0) scale(1 0.9948) translate(0 -0)">S</text>
<text x="-14.99 -0.35 18.63 46.56 64.45 77.41" y="0" class="ti" style="font-size:44.455px" transform="translate(1016.15 1131.1) rotate(-90) translate(0 0) scale(1 1.0309) translate(0 -0)"> ratio</text>
</svg>
</body></html>
